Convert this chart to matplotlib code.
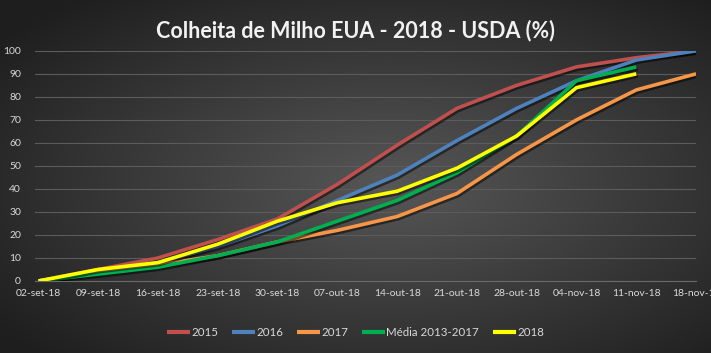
import numpy as np
import matplotlib
matplotlib.use("Agg")
import matplotlib.pyplot as plt
import matplotlib.patheffects as pe

weeks = ['02-set-18', '09-set-18', '16-set-18', '23-set-18', '30-set-18', '07-out-18',
         '14-out-18', '21-out-18', '28-out-18', '04-nov-18', '11-nov-18', '18-nov-18']

y2015 = [0, 5, 10, 18, 27, 42, 59, 75, 85, 93, 97, 100]
y2016 = [0, 4, 8, 15, 24, 35, 46, 61, 75, 87, 96, 100]
y2017 = [0, 4, 7, 11, 17, 22, 28, 38, 55, 70, 83, 90]
media = [0, 3, 6, 11, 17, 26, 35, 47, 63, 87, 93]
y2018 = [0, 5, 8, 16, 26, 34, 39, 49, 63, 84, 90]

series = [
    ('2015', y2015, '#C0504D'),
    ('2016', y2016, '#4F81BD'),
    ('2017', y2017, '#F79646'),
    ('Média 2013-2017', media, '#00B050'),
    ('2018', y2018, '#FFFF00'),
]

plt.rcParams['font.family'] = ['Lato', 'DejaVu Sans']

fig = plt.figure(figsize=(7.11, 3.53), dpi=100)

# radial dark background
bg = fig.add_axes([0, 0, 1, 1], zorder=-10)
gx, gy = np.meshgrid(np.linspace(-1, 1, 711), np.linspace(-1, 1, 353))
r = np.sqrt((gx - 0.1) ** 2 + (gy - 0.05) ** 2)
shade = np.clip(0.34 - 0.16 * r, 0.12, 0.4)
bg.imshow(np.dstack([shade, shade, shade]), aspect='auto', extent=[0, 1, 0, 1])
bg.axis('off')

ax = fig.add_axes([0.049, 0.204, 0.930, 0.652])
ax.patch.set_alpha(0)

x = np.arange(len(weeks))
for name, vals, col in series:
    ax.plot(x[:len(vals)], vals, color=col, lw=2.6, label=name, solid_capstyle='butt',
            path_effects=[pe.SimpleLineShadow(offset=(1, -1.5), alpha=0.5), pe.Normal()])

ax.set_xlim(-0.06, 11)
ax.set_ylim(0, 100)
ax.set_yticks(range(0, 101, 10))
ax.set_xticks(x)
ax.set_xticklabels(weeks)
ax.grid(axis='y', color='#5c5c5c', lw=0.8)
ax.set_axisbelow(True)
for s in ['top', 'right', 'left']:
    ax.spines[s].set_visible(False)
ax.spines['bottom'].set_color('#6a6a6a')
ax.tick_params(axis='both', length=0, colors='#d9d9d9', labelsize=7.5)
ax.tick_params(axis='y', pad=10)
ax.tick_params(axis='x', pad=6)

fig.suptitle('Colheita de Milho EUA - 2018 - USDA (%)', x=0.5, y=0.945, color='#f2f2f2',
             fontsize=15.5, fontweight='bold')

leg = fig.legend(loc='center', bbox_to_anchor=(0.5, 0.057), ncol=5, frameon=False,
                 fontsize=8.3, handlelength=2.0, handletextpad=0.1, columnspacing=1.2)
for t in leg.get_texts():
    t.set_color('#d9d9d9')
for h in leg.get_lines():
    h.set_linewidth(3)
    h.set_path_effects([])

fig.savefig('out.png', dpi=100)
